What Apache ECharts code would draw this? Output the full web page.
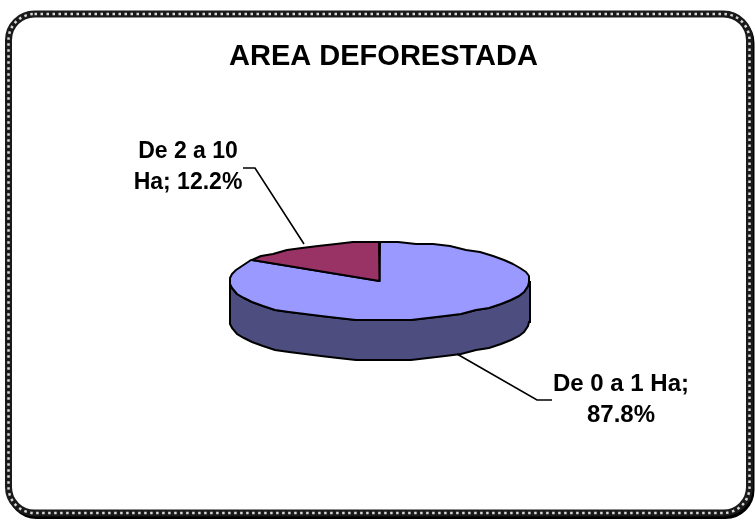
<!DOCTYPE html>
<html lang="es">
<head>
  <meta charset="UTF-8">
  <title>AREA DEFORESTADA</title>
  <style>
    * { margin: 0; padding: 0; }
    body { background: #ffffff; }
    #main { width: 755px; height: 520px; }
  </style>
</head>
<body>
  <div id="main"></div>
  <script src="https://cdn.jsdelivr.net/npm/echarts@6/dist/echarts.min.js"></script>
  <script>
  // data
  var categories = ['De 0 a 1 Ha', 'De 2 a 10 Ha'];
  var shares = [87.8, 12.2];
  var topColors = ['#9999ff', '#993366'];
  var wallColors = ['#4d4d80', '#4d1a33'];

  // how each label is broken on lines, and where it sits
  var labelLines = [['De 0 a 1 Ha;', '87.8%'], ['De 2 a 10', 'Ha; 12.2%']];
  var labelCenters = [[621, 400], [188, 167]];
  var labelSizes = [24, 23];
  var leaderElbows = [[[552, 400], [537, 400]], [[243, 168], [255, 168]]];
  var leaderNudge = [[-6, 0], [8, -4]];

  // pie layout
  var cx = 379.5, cy = 281, rx = 150, ry = 39, depth = 40;
  var skew = 1.66; // excel's 3d view stretches the angles sideways
  var step = 7;
  var snap = 2; // the rim of the old office picture is stair-stepped

  var total = shares.reduce(function (a, b) { return a + b; }, 0);

  // value angle (deg clockwise from top) -> angle on the ellipse
  function toEllipse(deg) {
    var r = deg * Math.PI / 180;
    var t = Math.atan2(skew * Math.sin(r), Math.cos(r)) * 180 / Math.PI;
    if (t < 0) t += 360;
    if (deg >= 360) t = 360;
    return t;
  }
  function rim(t, dy) {
    var r = t * Math.PI / 180;
    var y = cy - ry * Math.cos(r);
    return [Math.round(cx + rx * Math.sin(r)), Math.round(y / snap) * snap + (dy || 0)];
  }
  function arc(t0, t1, dy) {
    var pts = [rim(t0, dy)];
    for (var t = Math.ceil(t0 / step) * step; t < t1; t += step) {
      if (t > t0) pts.push(rim(t, dy));
    }
    pts.push(rim(t1, dy));
    return pts;
  }

  function renderSlice(params, api) {
    var i = params.dataIndex;
    var before = 0;
    for (var j = 0; j < i; j++) before += shares[j];
    var a0 = before / total * 360;
    var a1 = (before + api.value(0)) / total * 360;
    var t0 = toEllipse(a0), t1 = toEllipse(a1);
    var kids = [];

    // front wall, only the part on the lower half of the ellipse
    var w0 = Math.max(t0, 90), w1 = Math.min(t1, 270);
    if (w1 > w0) {
      kids.push({
        type: 'polygon',
        shape: { points: arc(w0, w1).concat(arc(w0, w1, depth).reverse()) },
        style: { fill: wallColors[i], stroke: '#000', lineWidth: 2 }
      });
    }

    kids.push({
      type: 'polygon',
      shape: { points: [[cx, cy]].concat(arc(t0, t1)) },
      style: { fill: topColors[i], stroke: '#000', lineWidth: 2, lineJoin: 'round' }
    });

    // leader line from the middle of the slice
    var tm = toEllipse((a0 + a1) / 2);
    var wall = (tm > 90 && tm < 270) ? depth : 0;
    var end = rim(tm, wall);
    end = [end[0] + leaderNudge[i][0], end[1] + leaderNudge[i][1]];
    kids.push({
      type: 'polyline',
      shape: { points: leaderElbows[i].concat([end]) },
      style: { fill: null, stroke: '#000', lineWidth: 1.6 }
    });

    kids.push({
      type: 'text',
      x: labelCenters[i][0],
      y: labelCenters[i][1],
      style: {
        text: labelLines[i].join('\n'),
        font: 'bold ' + labelSizes[i] + 'px "Liberation Sans", Arial, sans-serif',
        lineHeight: 31,
        fill: '#000',
        align: 'center',
        verticalAlign: 'middle'
      }
    });
    return { type: 'group', children: kids };
  }

  var frame = { x: 8.5, y: 14, width: 741, height: 499, r: 26 };

  var myChart = echarts.init(document.getElementById('main'), null, { renderer: 'canvas' });
  var option = {
    animation: false,
    backgroundColor: '#ffffff',
    title: {
      text: 'AREA DEFORESTADA',
      left: 378.5,
      top: 37,
      textAlign: 'center',
      textStyle: { fontFamily: '"Liberation Sans", Arial, sans-serif', fontWeight: 'bold', fontSize: 29, color: '#000' }
    },
    // rounded frame with the dotted office pattern and its shadow
    graphic: [
      { type: 'rect', z: -3, shape: { x: frame.x + 2, y: frame.y + 3, width: frame.width, height: frame.height, r: frame.r }, style: { fill: null, stroke: '#000', lineWidth: 6 } },
      { type: 'rect', z: -2, shape: { x: frame.x, y: frame.y, width: frame.width, height: frame.height, r: frame.r }, style: { fill: '#fff', stroke: '#1a1a1a', lineWidth: 7 } },
      { type: 'rect', z: -1, shape: { x: frame.x, y: frame.y, width: frame.width, height: frame.height, r: frame.r }, style: { fill: null, stroke: '#d8d8d8', lineWidth: 2.5, lineDash: [2.5, 3.5] } }
    ],
    series: [{
      type: 'custom',
      coordinateSystem: 'none',
      renderItem: renderSlice,
      data: categories.map(function (c, i) { return { name: c, value: [shares[i]] }; })
    }]
  };
  myChart.setOption(option);
  </script>
</body>
</html>
